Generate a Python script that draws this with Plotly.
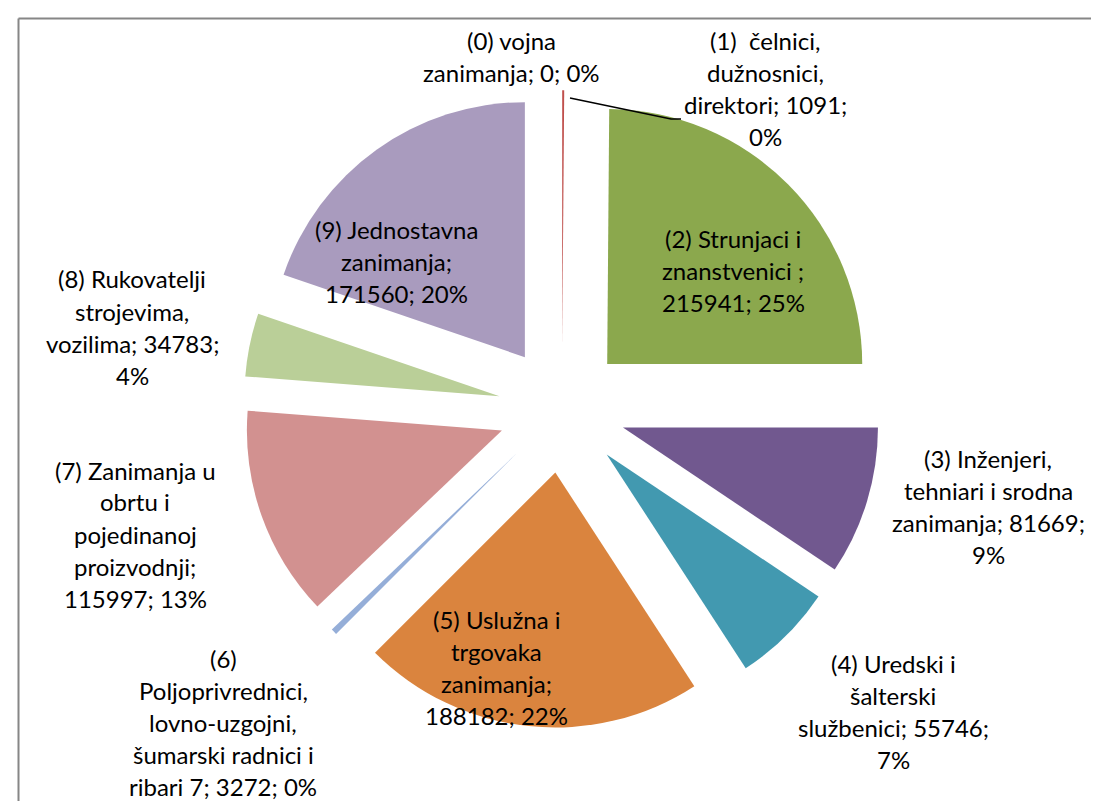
import plotly.graph_objects as go

# -----------------------------------------------------
# Data
# -----------------------------------------------------
codes = ["(0)", "(1)", "(2)", "(3)", "(4)", "(5)", "(6)", "(7)", "(8)", "(9)"]
values = [0, 1091, 215941, 81669, 55746, 188182, 3272, 115997, 34783, 171560]
percents = [0, 0, 25, 9, 7, 22, 0, 13, 4, 20]
colors = ["#4F81BD", "#C0504D", "#8BA84D", "#71588F", "#4299B0",
          "#DA843E", "#95AED8", "#D29190", "#BACF98", "#A99BBE"]

# label text, already wrapped the way the chart shows it
label_lines = [
    ["(0) vojna", f"zanimanja; {values[0]}; {percents[0]}%"],
    ["(1)\u00a0 čelnici,", "dužnosnici,", f"direktori; {values[1]};", f"{percents[1]}%"],
    ["(2) Strunjaci i", "znanstvenici ;", f"{values[2]}; {percents[2]}%"],
    ["(3) Inženjeri,", "tehniari i srodna", f"zanimanja; {values[3]};", f"{percents[3]}%"],
    ["(4) Uredski i", "šalterski", f"službenici; {values[4]};", f"{percents[4]}%"],
    ["(5) Uslužna i", "trgovaka", "zanimanja;", f"{values[5]}; {percents[5]}%"],
    ["(6)", "Poljoprivrednici,", "lovno-uzgojni,", "šumarski radnici i",
     f"ribari 7; {values[6]}; {percents[6]}%"],
    ["(7) Zanimanja u", "obrtu i", "pojedinanoj", "proizvodnji;",
     f"{values[7]}; {percents[7]}%"],
    ["(8) Rukovatelji", "strojevima,", f"vozilima; {values[8]};", f"{percents[8]}%"],
    ["(9) Jednostavna", "zanimanja;", f"{values[9]}; {percents[9]}%"],
]

# where each label block sits (centre x, first line y) in pixels
label_pos = [(503, 40), (757, 40), (725, 237), (980, 457), (885, 662),
             (488, 618), (215, 657), (127, 469), (124, 278), (388, 228)]

W, H = 1099, 801
LINE_H = 32
Y_FIX = -7  # annotation middle anchor sits a little low

# -----------------------------------------------------
# Pie
# -----------------------------------------------------
fig = go.Figure(go.Pie(
    labels=codes,
    values=values,
    sort=False,
    direction="clockwise",
    rotation=0,
    pull=[0.25] * len(values),
    marker=dict(colors=colors, line=dict(width=0)),
    textinfo="none",
    hoverinfo="label+value+percent",
    showlegend=False,
    domain=dict(x=[0.2140, 0.7941], y=[0.1014, 0.8973]),
))

# labels, one annotation per line to get the wide Excel line spacing
for lines, (px_, py_) in zip(label_lines, label_pos):
    for i, line in enumerate(lines):
        fig.add_annotation(
            x=px_ / W, y=1 - (py_ + Y_FIX + i * LINE_H) / H,
            xref="paper", yref="paper",
            xanchor="center", yanchor="middle",
            text=line, showarrow=False,
            font=dict(family="Lato", size=24, color="#000000"),
        )

# leader line for label (1)
fig.add_shape(type="path", xref="paper", yref="paper",
              path=f"M {562/W} {1-90/H} L {663/W} {1-111/H} L {673/W} {1-111/H}",
              line=dict(color="#000000", width=1.5))

# chart border (top and left visible)
fig.add_shape(type="line", xref="paper", yref="paper",
              x0=10.5 / W, y0=1 - 10.5 / H, x1=1, y1=1 - 10.5 / H,
              line=dict(color="#868686", width=2))
fig.add_shape(type="line", xref="paper", yref="paper",
              x0=10.5 / W, y0=1 - 10.5 / H, x1=10.5 / W, y1=0,
              line=dict(color="#868686", width=2))

fig.update_layout(
    width=W, height=H,
    margin=dict(l=0, r=0, t=0, b=0),
    paper_bgcolor="#FFFFFF",
    plot_bgcolor="#FFFFFF",
)

fig.write_html("out.html")
